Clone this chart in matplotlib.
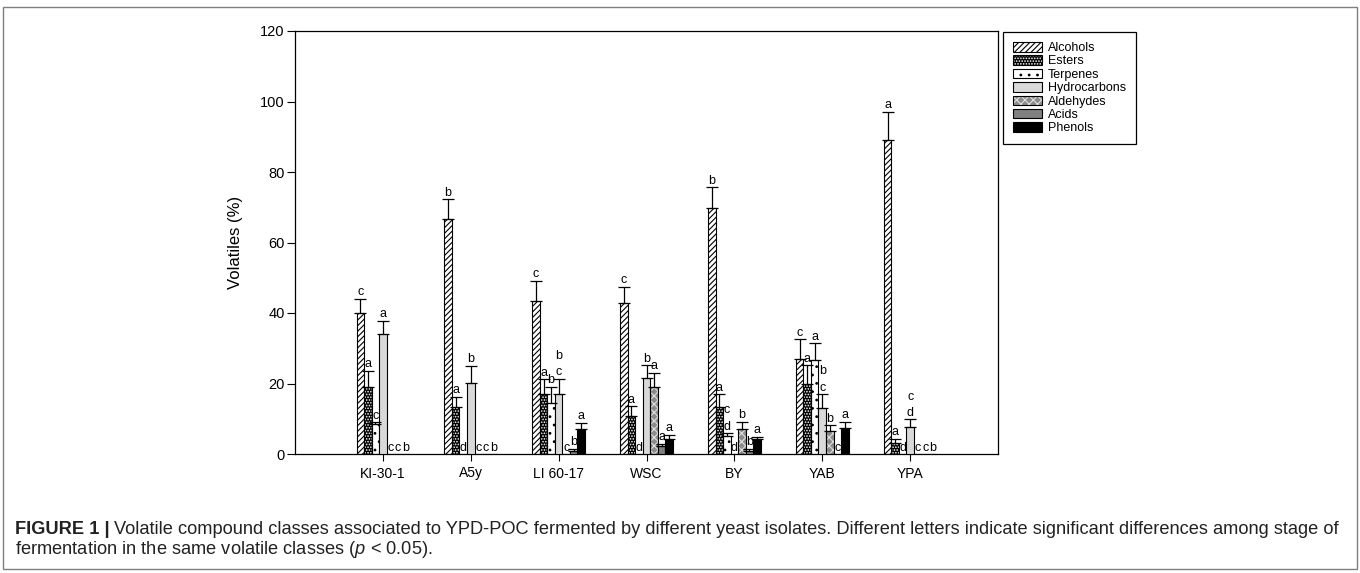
import matplotlib
matplotlib.use("Agg")
import matplotlib.pyplot as plt
from matplotlib.patches import Patch, Rectangle
import numpy as np

plt.rcParams['font.family'] = ['Liberation Sans', 'DejaVu Sans']
plt.rcParams['mathtext.fontset'] = 'custom'
plt.rcParams['mathtext.it'] = 'Liberation Sans:italic'
plt.rcParams['mathtext.rm'] = 'Liberation Sans'
plt.rcParams['hatch.linewidth'] = 0.8

categories = ["KI-30-1", "A5y", "LI 60-17", "WSC", "BY", "YAB", "YPA"]
series = ["Alcohols", "Esters", "Terpenes", "Hydrocarbons", "Aldehydes", "Acids", "Phenols"]

alcohols = [40.0, 66.6, 43.4, 42.7, 69.7, 26.9, 89.1]
alcohols_err = [4.0, 5.7, 5.8, 4.8, 6.0, 5.6, 8.0]
alcohols_let = ["c", "b", "c", "c", "b", "c", "a"]

esters = [18.9, 13.2, 17.0, 10.8, 13.4, 20.0, 3.0]
esters_err = [4.7, 3.1, 4.2, 2.8, 3.6, 5.2, 1.3]
esters_let = ["a", "a", "a", "a", "a", "a", "a"]

terpenes = [8.5, 0.0, 14.4, 0.0, 5.2, 26.7, 0.0]
terpenes_err = [0.5, 0.0, 4.7, 0.0, 0.7, 4.7, 0.0]
terpenes_let = ["c", "d", "b", "d", "d", "a", "d"]

hydrocarbons = [34.0, 20.2, 16.9, 21.5, 0.0, 13.1, 7.7]
hydrocarbons_err = [3.8, 4.9, 4.4, 3.7, 0.0, 3.9, 2.1]
hydrocarbons_let = ["a", "b", "c", "b", "d", "c", "d"]

aldehydes = [0.0, 0.0, 0.0, 19.1, 7.0, 6.5, 0.0]
aldehydes_err = [0.0, 0.0, 0.0, 4.0, 2.2, 1.7, 0.0]
aldehydes_let = ["c", "c", "c", "a", "b", "b", "c"]

acids = [0.0, 0.0, 0.85, 2.4, 0.85, 0.0, 0.0]
acids_err = [0.0, 0.0, 0.7, 0.5, 0.7, 0.0, 0.0]
acids_let = ["c", "c", "b", "a", "b", "c", "c"]

phenols = [0.0, 0.0, 7.1, 4.3, 4.3, 7.3, 0.0]
phenols_err = [0.0, 0.0, 1.8, 1.1, 0.6, 1.9, 0.0]
phenols_let = ["b", "b", "a", "a", "a", "a", "b"]

# second (stacked) letters printed above some bars
extra_letters = [("LI 60-17", "Hydrocarbons", "b"),
                 ("BY", "Terpenes", "c"),
                 ("YAB", "Hydrocarbons", "b"),
                 ("YPA", "Hydrocarbons", "c")]

values = [alcohols, esters, terpenes, hydrocarbons, aldehydes, acids, phenols]
errors = [alcohols_err, esters_err, terpenes_err, hydrocarbons_err, aldehydes_err, acids_err, phenols_err]
letters = [alcohols_let, esters_let, terpenes_let, hydrocarbons_let, aldehydes_let, acids_let, phenols_let]

# style: (facecolor, hatch, hatchcolor)
styles = [
    ("white", "//////", "black"),
    ("black", "......", "white"),
    ("white", "..", "black"),
    ("#d9d9d9", None, None),
    ("#8c8c8c", "xxxx", "#e0e0e0"),
    ("#808080", None, None),
    ("black", None, None),
]

W, H = 1360, 573
fig = plt.figure(figsize=(W / 100, H / 100), dpi=100)
ax = fig.add_axes([295 / W, 1 - 454 / H, (998 - 295) / W, (454 - 31) / H])

x = np.arange(1, len(categories) + 1)
nser = len(series)
w = 0.6 / nser

handles = []
for i, (vals, errs, lets, st) in enumerate(zip(values, errors, letters, styles)):
    fc, hatch, hc = st
    pos = x + (i - (nser - 1) / 2) * w
    if hatch:
        ax.bar(pos, vals, w, color=fc, edgecolor=hc, hatch=hatch, linewidth=0, zorder=2)
        ax.bar(pos, vals, w, fill=False, edgecolor="black", linewidth=0.8, zorder=3)
        hp = (Patch(facecolor=fc, edgecolor=hc, hatch=hatch, linewidth=0),
              Patch(fill=False, edgecolor="black", linewidth=0.8))
    else:
        ax.bar(pos, vals, w, color=fc, edgecolor="black", linewidth=0.8, zorder=3)
        hp = Patch(facecolor=fc, edgecolor="black", linewidth=0.8)
    handles.append(hp)
    vals_a = np.array(vals)
    errs_a = np.array(errs)
    m = vals_a > 0
    ax.errorbar(pos[m], vals_a[m], yerr=[np.zeros(m.sum()), errs_a[m]], fmt="none",
                ecolor="black", elinewidth=0.9, capsize=4.5, capthick=0.9, zorder=4)
    for p, v, e, l, cat in zip(pos, vals, errs, lets, categories):
        ty = v + e + 1.0 if v > 0 else 0.8
        ax.text(p, ty, l, ha="center", va="baseline", fontsize=9, zorder=5)
        for ec, es, el in extra_letters:
            if ec == cat and es == series[i]:
                ax.text(p, ty + 4.6, el, ha="center", va="baseline", fontsize=9, zorder=5)

ax.set_xlim(0, len(categories) + 1)
ax.set_ylim(0, 120)
ax.set_yticks(np.arange(0, 121, 20))
ax.set_xticks(x)
ax.set_xticklabels(categories, fontsize=10)
ax.tick_params(axis="y", labelsize=10.5, direction="out", length=5.5, width=0.8, pad=2)
ax.tick_params(axis="x", direction="out", length=5, width=0.8, pad=4)
for s in ax.spines.values():
    s.set_linewidth(0.9)
ax.set_ylabel("Volatiles (%)", fontsize=12, labelpad=12)

leg = fig.legend(handles, series, loc="upper left", bbox_to_anchor=(1003 / W, 1 - 32 / H),
                 fontsize=9, frameon=True, fancybox=False, framealpha=1, edgecolor="black",
                 handlelength=2.3, handleheight=0.8, labelspacing=0.1, borderpad=0.8,
                 handletextpad=0.5, borderaxespad=0)
leg.get_frame().set_linewidth(0.9)

# outer figure frame
fig.patches.append(Rectangle((3 / W, 1 - 569 / H), (1357 - 3) / W, (569 - 7) / H,
                             transform=fig.transFigure, fill=False, edgecolor="#7f7f7f", linewidth=1))

cap_fs = 13.15
t1 = fig.text(15 / W, 1 - 530 / H, "FIGURE 1 |", fontsize=cap_fs, fontweight="bold",
              va="center", ha="left", color="#222222")
fig.canvas.draw()
bb = t1.get_window_extent()
fig.text((bb.x1 + 4) / W, 1 - 530 / H,
         "Volatile compound classes associated to YPD-POC fermented by different yeast isolates. "
         "Different letters indicate significant differences among stage of",
         fontsize=cap_fs, va="center", ha="left", color="#222222")
fig.text(15 / W, 1 - 550 / H,
         r"fermentation in the same volatile classes ($\mathit{p}$ < 0.05).",
         fontsize=cap_fs, va="center", ha="left", color="#222222")

fig.savefig("out.png", dpi=100)
